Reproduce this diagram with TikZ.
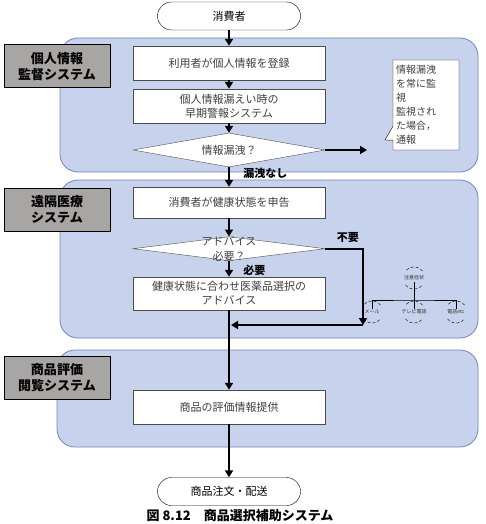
\documentclass[tikz,border=0pt]{standalone}
\usepackage{fontspec}
\setmainfont{Noto Sans CJK JP}
\usepackage{xcolor}
\usetikzlibrary{shapes.geometric,shapes.callouts,arrows.meta,positioning}
\definecolor{panelblue}{RGB}{199,211,236}
\definecolor{panelline}{RGB}{112,132,184}
\definecolor{taggray}{RGB}{168,165,165}

\begin{document}
\begin{tikzpicture}[
  x=1pt, y=-1pt,
  every node/.style={font=\fontsize{11}{14}\selectfont},
  panel/.style ={draw=panelline, fill=panelblue, rounded corners=18pt, line width=0.8pt},
  tagbox/.style={rectangle, draw, fill=taggray, line width=1pt,
                 minimum width=106pt, minimum height=43pt, align=center,
                 font=\fontsize{13}{16}\selectfont\bfseries},
  term/.style  ={rectangle, draw, rounded corners=14pt, fill=white,
                 minimum width=143pt, minimum height=28pt},
  proc/.style  ={rectangle, draw=black!70, fill=white, text=black!75,
                 minimum width=192pt, minimum height=34pt, align=center},
  decide/.style={diamond, draw=black!70, fill=white, inner sep=0pt,
                 minimum width=192pt},
  lbl/.style   ={font=\fontsize{11}{13}\selectfont\bfseries},
  tiny/.style  ={font=\fontsize{5}{6}\selectfont, inner sep=1pt, text=black!80},
  arr/.style   ={-{Triangle[length=7pt,width=8pt]}, line width=2.2pt}
]
  \useasboundingbox (0,0) rectangle (485,524);

  % panels
  \draw[panel] (60,38)  rectangle (478,172);
  \draw[panel] (60,180) rectangle (478,338);
  \draw[panel] (57,350) rectangle (478,447);

  \node[tagbox] (tag1) at (57,66.5)  {個人情報\\監督システム};
  \node[tagbox] (tag2) at (57,209.5) {遠隔医療\\システム};
  \node[tagbox] (tag3) at (57,377.5) {商品評価\\閲覧システム};

  \node[term]  (user)   at (229,16)  {消費者};
  \node[proc]  (reg)    at (229,63)  {利用者が個人情報を登録};
  \node[proc]  (alarm)  at (229,106) {個人情報漏えい時の\\早期警報システム};
  \node[decide, minimum height=34pt,
        label={[text=black!75]center:情報漏洩？}] (leak) at (229,150) {};
  \node[proc, minimum height=31pt] (report) at (229,202.5) {消費者が健康状態を申告};
  \node[decide, minimum height=24pt,
        label={[text=black!75, align=center, font=\fontsize{11}{15}\selectfont]center:アドバイス\\必要？}] (need) at (229,248.7) {};
  \node[proc, minimum height=33pt] (advice) at (229,293.5) {健康状態に合わせ医薬品選択の\\アドバイス};
  \node[proc]  (review) at (229,407) {商品の評価情報提供};
  \node[term]  (order)  at (229,491.5) {商品注文・配送};

  \node[rectangle callout, draw, fill=white, text width=60pt, align=left,
        inner sep=3pt, minimum height=90pt, callout pointer width=14pt,
        callout absolute pointer={(385,140)},
        font=\fontsize{10}{14}\selectfont, text=black!75] (watch) at (426,105)
        {情報漏洩\\を常に監\\視\\監視され\\た場合，\\通報};

  \coordinate (alert) at (367,150);
  \coordinate (turn)  at (363,325);
  \coordinate (join)  at (231,325);

  \draw[arr] (user)   -- (reg);
  \draw[arr] (reg)    -- (alarm);
  \draw[arr] (alarm)  -- (leak);
  \draw[arr] (leak)   -- (alert);
  \draw[arr] (leak)   -- node[lbl, right=10pt, pos=0.3] {漏洩なし} (report);
  \draw[arr] (report) -- (need);
  \draw[arr] (need)   -- node[lbl, right=10pt, pos=0.6] {必要} (advice);
  \draw[arr] (need.east) -| node[lbl, above, pos=0.3, yshift=2pt] {不要} (turn);
  \draw[arr] (turn)   -- (join);
  \draw[arr] (advice) -- (review);
  \draw[arr] (review) -- (order);

  % contact tree
  \node[tiny] (sym)  at (414,278) {注意症状};
  \node[tiny] (mail) at (372,312) {メール};
  \node[tiny] (tv)   at (414,312) {テレビ電話};
  \node[tiny] (etc)  at (456,312) {電話etc};
  \coordinate (fork) at (414,300);
  \draw[thin] (sym)  -- (fork);
  \draw[thin] (mail) |- (fork) -| (etc);
  \draw[thin] (tv)   -- (fork);
  \foreach \n in {sym,mail,tv,etc}{
    \draw[thin, densely dashed] (\n.center) ++(40:11pt)  arc (40:140:11pt);
    \draw[thin, densely dashed] (\n.center) ++(220:11pt) arc (220:320:11pt);
  }

  \node[font=\fontsize{13}{15}\selectfont\bfseries] (cap) at (240,516)
       {図 8.12　商品選択補助システム};
\end{tikzpicture}
\end{document}
